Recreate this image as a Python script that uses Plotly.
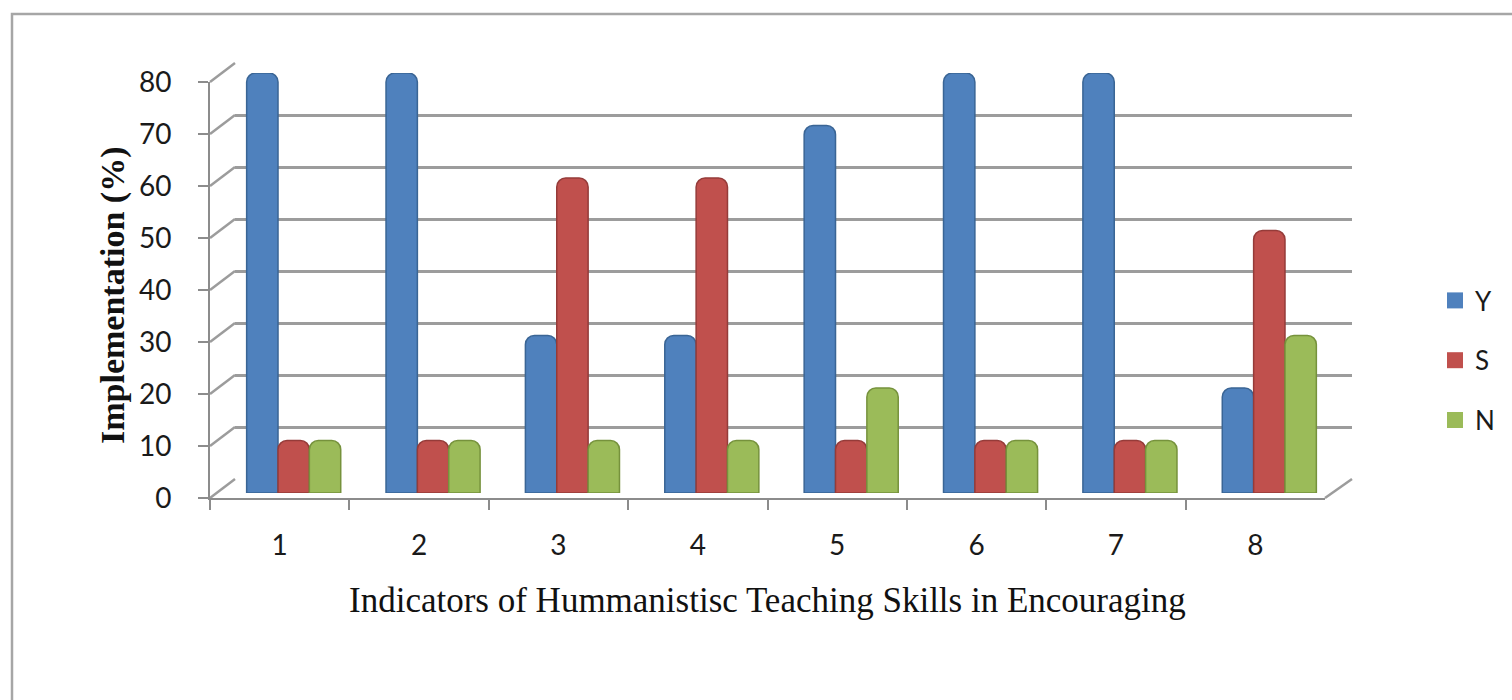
import plotly.graph_objects as go

# ---------------- data ----------------
categories = ["1", "2", "3", "4", "5", "6", "7", "8"]
y_values = [80, 80, 30, 30, 70, 80, 80, 20]
s_values = [10, 10, 60, 60, 10, 10, 10, 50]
n_values = [10, 10, 10, 10, 20, 10, 10, 30]
series_names = ["Y", "S", "N"]
series_colors = ["#4F81BD", "#C0504D", "#9BBB59"]
series_lines = ["#3A6595", "#953B39", "#76923C"]
y_ticks = [0, 10, 20, 30, 40, 50, 60, 70, 80]
x_title = "Indicators of Hummanistisc Teaching Skills in Encouraging"
y_title = "Implementation (%)"

W, H = 1512, 700


def px(x):
    return x / W


def py(y):
    return 1 - y / H


# axis domains (front axes, back wall, bars in middle depth)
front_x = [px(210), px(1325)]
front_y = [py(498), py(82)]
back_x = [px(235), px(1352)]
back_y = [py(479), py(63)]
bar_x = [px(224), px(1339)]
bar_y = [py(493), py(73)]

YMAX = y_ticks[-1]
GRID = "#9C9C9C"
AXIS = "#8C8C8C"

fig = go.Figure()

all_values = [y_values, s_values, n_values]
for name, vals, col, lc in zip(series_names, all_values, series_colors, series_lines):
    fig.add_trace(go.Bar(
        x=categories, y=vals, name=name,
        marker=dict(color=col, line=dict(color=lc, width=1.5), cornerradius=9),
        xaxis="x3", yaxis="y3", legendgroup=name, showlegend=False,
    ))

# legend entries with larger square swatches
for name, col in zip(series_names, series_colors):
    fig.add_trace(go.Scatter(
        x=[categories[0]], y=[None], name=name, mode="markers",
        marker=dict(symbol="square", size=16, color=col),
        xaxis="x3", yaxis="y3", legendgroup=name, hoverinfo="skip",
    ))

# invisible traces to instantiate front and back axes
fig.add_trace(go.Scatter(x=categories, y=[None] * len(categories), xaxis="x", yaxis="y",
                         showlegend=False, hoverinfo="skip"))
fig.add_trace(go.Scatter(x=categories, y=[None] * len(categories), xaxis="x2", yaxis="y2",
                         showlegend=False, hoverinfo="skip"))

# side-wall diagonals and floor edge
shapes = []
for v in y_ticks:
    yf = front_y[0] + v / YMAX * (front_y[1] - front_y[0])
    yb = back_y[0] + v / YMAX * (back_y[1] - back_y[0])
    shapes.append(dict(type="line", xref="paper", yref="paper",
                       x0=front_x[0], y0=yf, x1=back_x[0], y1=yb,
                       line=dict(color=GRID, width=2.5), layer="below"))
shapes.append(dict(type="line", xref="paper", yref="paper",
                   x0=front_x[1], y0=front_y[0], x1=back_x[1], y1=back_y[0],
                   line=dict(color=GRID, width=2.5), layer="below"))
# outer chart border
shapes.append(dict(type="rect", xref="paper", yref="paper",
                   x0=px(12), y0=-0.05, x1=1.05, y1=py(14),
                   line=dict(color="#A6A6A6", width=2.5), layer="below"))

tick_font = dict(family="Lato, Carlito, Calibri, sans-serif", size=28, color="#1a1a1a")

fig.update_layout(
    width=W, height=H,
    margin=dict(l=0, r=0, t=0, b=0),
    paper_bgcolor="white", plot_bgcolor="rgba(0,0,0,0)",
    barmode="group", bargap=0.325, bargroupgap=0,
    showlegend=True,
    legend=dict(x=px(1435), y=py(277), xanchor="left", yanchor="top",
                font=dict(family="Lato, Carlito, sans-serif", size=26, color="#1a1a1a"),
                tracegroupgap=23, itemsizing="trace", bgcolor="rgba(0,0,0,0)"),
    xaxis=dict(domain=front_x, anchor="y", type="category", range=[-0.5, 7.5],
               tickson="boundaries", ticks="outside", ticklen=10, tickwidth=2,
               tickcolor=AXIS, showline=True, linecolor=AXIS, linewidth=2,
               showgrid=False, tickfont=tick_font, ticklabelstandoff=21,
               automargin=False, fixedrange=True),
    yaxis=dict(domain=front_y, anchor="x", range=[0, YMAX], tickvals=y_ticks,
               ticks="outside", ticklen=10, tickwidth=2, tickcolor=AXIS,
               showline=True, linecolor=AXIS, linewidth=2, showgrid=False,
               zeroline=False, tickfont=tick_font, ticklabelstandoff=21,
               automargin=False, fixedrange=True),
    xaxis2=dict(domain=back_x, anchor="y2", type="category", range=[-0.5, 7.5],
                showgrid=False, showticklabels=False, ticks="", showline=False,
                zeroline=False, automargin=False, fixedrange=True),
    yaxis2=dict(domain=back_y, anchor="x2", range=[0, YMAX], tickvals=y_ticks,
                showgrid=True, gridcolor=GRID, gridwidth=2.5, showticklabels=False,
                ticks="", showline=False, zeroline=False, automargin=False,
                fixedrange=True),
    xaxis3=dict(domain=bar_x, anchor="y3", type="category", range=[-0.5, 7.5],
                visible=False, automargin=False, fixedrange=True),
    yaxis3=dict(domain=bar_y, anchor="x3", range=[0, YMAX], visible=False,
                automargin=False, fixedrange=True),
    shapes=shapes,
    annotations=[
        dict(text=x_title, xref="paper", yref="paper", x=(front_x[0] + front_x[1]) / 2,
             y=py(600), xanchor="center", yanchor="middle", showarrow=False,
             font=dict(family="Liberation Serif, Times New Roman, serif", size=35, color="#111")),
        dict(text="<b>" + y_title + "</b>", xref="paper", yref="paper", x=px(113),
             y=py(296), xanchor="center", yanchor="middle", showarrow=False, textangle=-90,
             font=dict(family="Liberation Serif, Times New Roman, serif", size=34, color="#111")),
    ],
)

fig.write_html("out.html")
